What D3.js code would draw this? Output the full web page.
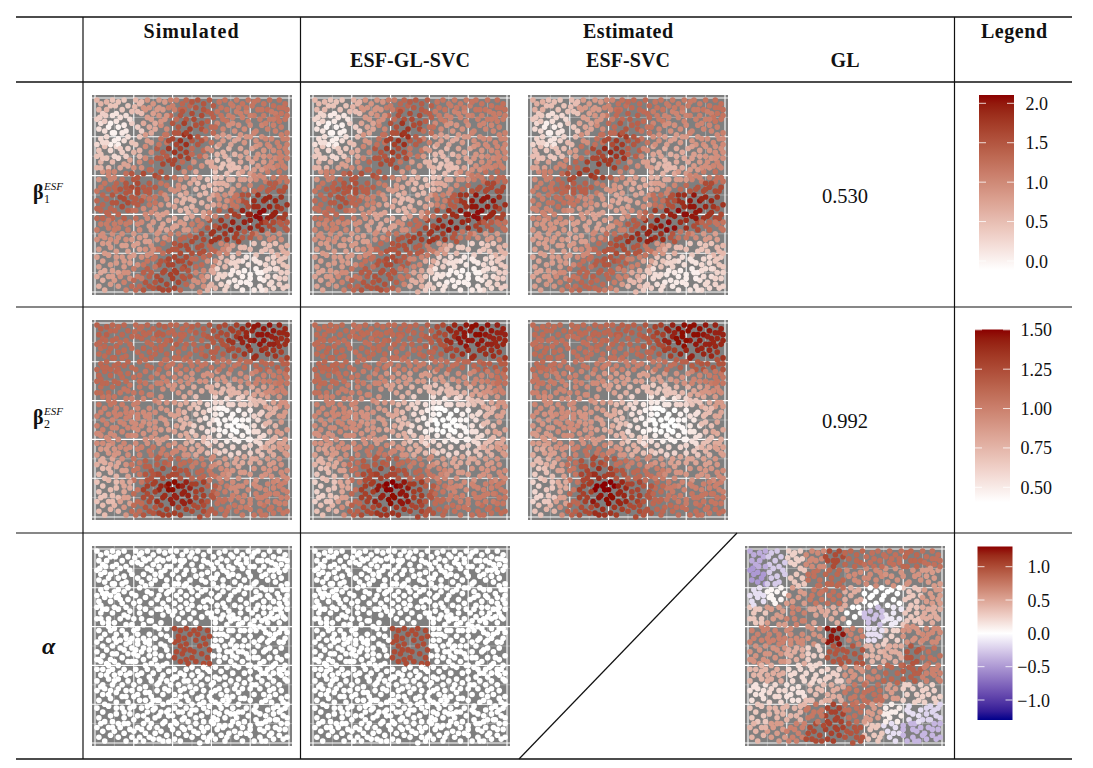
<!DOCTYPE html>
<html>
<head>
<meta charset="utf-8">
<script src="https://cdn.jsdelivr.net/npm/d3@7"></script>
<style>
body { margin: 0; background: #fff; }
text { font-family: "Liberation Serif", serif; fill: #111; }
</style>
</head>
<body>
<script>
// site positions in percent of the unit square, y counted from the top
var sites = [
[1,1],[3,3],[2,6],[4,8],[6,6],[8,4],[9,1],[6,2],[1,11],[3,13],[2,16],[5,17],[7,15],[9,18],[6,20],[3,21],[1,24],
[12,2],[15,1],[17,4],[14,6],[11,8],[13,10],[16,9],[19,7],[9,9],[11,12],[8,13],[12,15],[14,18],[12,21],[15,22],[17,20],[19,23],
[21,1],[24,2],[27,1],[25,5],[22,7],[28,5],[30,8],[27,10],[19,13],[22,15],[25,13],[28,15],[31,13],[29,18],[26,19],[23,20],[21,24],
[33,1],[36,2],[39,1],[38,5],[35,6],[33,9],[36,11],[39,9],[41,6],[42,1],[45,3],[47,1],[49,4],[46,6],[44,9],[47,11],[50,8],[52,5],
[53,1],[56,3],[59,1],[61,4],[58,7],[55,9],[58,12],[61,10],[63,7],[64,2],[67,1],[70,3],[68,6],[65,9],[68,12],[71,10],[73,7],[71,4],
[73,1],[76,3],[79,1],[81,4],[78,7],[76,10],[79,12],[82,9],[84,6],[84,1],[87,3],[90,1],[92,4],[89,6],[87,9],[90,11],[93,8],[95,5],
[95,1],[98,3],[99,6],[96,8],[98,11],[95,12],[92,14],[34,14],[37,16],[40,13],[43,15],[46,13],[49,16],[46,19],[43,18],[40,21],[37,23],[34,21],
[52,14],[55,16],[53,20],[50,22],[47,24],[44,26],[47,28],[50,26],[60,15],[63,13],[66,16],[69,14],[72,17],[69,20],[66,22],[63,20],[60,23],[57,21],
[74,14],[77,16],[80,14],[83,17],[86,14],[89,16],[86,20],[83,22],[80,20],[77,23],[74,21],[93,17],[96,15],[99,18],[97,21],[94,23],[91,21],[89,24],[92,27],[95,28],[98,26],
[2,27],[5,25],[8,27],[11,25],[14,28],[17,26],[20,28],[18,32],[15,34],[12,31],[9,33],[6,31],[3,33],[1,30],
[23,27],[26,25],[29,23],[32,26],[35,28],[38,26],[41,28],[38,32],[35,34],[32,31],[29,33],[26,31],[23,33],[20,36],
[53,24],[56,27],[54,30],[51,33],[48,31],[45,33],[43,36],[46,38],[49,36],[52,38],[55,35],[58,33],[60,27],[63,25],[66,28],[69,26],[72,29],[69,32],[66,34],[63,32],[60,35],
[75,26],[78,28],[81,26],[84,29],[87,27],[90,30],[87,33],[84,35],[81,33],[78,36],[75,33],[72,36],[93,31],[96,33],[99,31],[98,36],[95,38],[92,36],[89,38],[92,41],[95,43],[98,41],
[1,36],[4,38],[7,36],[10,38],[13,36],[16,39],[14,42],[11,44],[8,42],[5,44],[2,42],[19,39],[22,41],[25,39],[28,37],[31,40],[34,38],[37,41],[34,44],[31,46],[28,44],[25,46],[22,44],[19,46],[16,44],
[41,41],[44,42],[47,41],[49,44],[46,46],[43,45],[41,48],[44,50],[47,49],[49,52],[42,53],[45,54],[41,56],[44,58],[47,57],[48,59],[43,47],[46,52],
[51,42],[54,41],[58,42],[59,45],[56,46],[52,47],[54,50],[57,49],[59,52],[51,53],[55,54],[58,56],[52,58],[56,59],[59,59],[53,44],[50,56],
[62,38],[65,41],[68,39],[71,42],[74,39],[77,42],[80,39],[83,42],[80,45],[77,47],[74,45],[71,47],[68,45],[65,47],[62,44],
[85,40],[88,43],[86,46],[89,48],[92,46],[95,48],[98,46],[96,51],[93,53],[90,51],[87,53],[84,50],[82,48],
[1,48],[4,50],[1,53],[7,47],[9,50],[11,48],[13,51],[16,49],[19,51],[17,54],[14,56],[11,54],[8,57],[6,59],[4,55],
[22,49],[25,51],[28,49],[31,51],[34,49],[37,52],[34,55],[31,57],[28,55],[25,57],[22,55],[19,58],
[39,47],[38,55],[37,59],[35,60],[33,62],[30,64],[27,62],[24,64],[21,62],[18,64],[15,62],[12,60],[9,62],
[61,50],[64,52],[67,50],[70,53],[73,50],[76,53],[79,50],[82,53],[79,56],[76,58],[73,56],[70,58],[67,56],[64,58],[61,55],
[84,56],[87,58],[90,56],[93,59],[96,57],[99,55],[98,60],[95,62],[92,64],[89,62],[86,64],[83,61],[80,63],
[1,62],[3,65],[1,68],[4,70],[7,67],[9,70],[12,67],[14,70],[17,68],[20,70],[23,68],[26,71],[29,68],[32,70],
[35,65],[38,63],[41,62],[44,64],[47,62],[50,61],[53,63],[56,61],[59,63],[62,61],[65,63],[68,61],[71,64],
[37,68],[40,67],[43,70],[46,68],[49,71],[52,68],[55,70],[58,67],[61,69],[64,67],[67,70],[70,68],[73,70],
[74,61],[77,64],[74,67],[77,69],[80,67],[83,70],[86,68],[89,70],[92,68],[95,70],[98,67],[99,64],
[1,73],[4,75],[2,78],[5,80],[8,77],[11,74],[14,76],[11,79],[14,82],[17,79],[20,76],[23,78],[20,81],
[26,74],[29,76],[32,73],[35,75],[32,78],[29,80],[26,78],[24,82],[27,84],[30,83],[33,86],
[38,73],[41,75],[44,73],[47,76],[50,74],[53,77],[50,80],[47,82],[44,80],[41,82],[38,79],
[56,73],[59,76],[62,73],[65,75],[68,73],[71,76],[74,74],[77,77],[74,80],[71,82],[68,80],[65,82],[62,79],[59,81],[56,79],
[80,72],[82,75],[80,78],[83,81],[86,79],[87,75],[85,72],[90,73],[93,75],[96,73],[99,76],[97,79],[94,81],[91,79],[89,83],[92,85],[95,84],[98,82],
[1,82],[4,84],[2,87],[5,89],[8,86],[11,85],[9,89],[12,90],[15,87],[18,85],[17,90],[20,88],
[35,80],[37,84],[40,86],[43,84],[46,87],[49,85],[52,83],[55,86],[58,84],[61,87],[64,85],[67,87],[70,85],[73,87],
[76,84],[79,86],[77,89],[80,91],[83,88],[86,90],[83,84],[88,86],
[1,92],[4,94],[2,97],[5,99],[8,96],[7,92],[10,94],[12,97],[15,95],[13,92],[18,93],[16,99],[19,97],
[22,92],[25,90],[28,92],[26,95],[23,97],[21,99],[25,99],[28,97],[31,95],[29,90],[32,92],[35,90],
[34,94],[37,96],[35,99],[38,99],[40,93],[42,90],[45,92],[43,95],[41,98],[44,99],[47,96],[49,92],
[50,97],[52,90],[55,92],[53,95],[56,97],[54,100],[58,99],[60,96],[58,92],[61,90],[63,93],
[62,98],[65,96],[67,99],[69,95],[66,92],[70,91],[72,94],[74,90],[73,97],[76,99],[78,95],[76,92],
[80,96],[82,99],[85,97],[87,94],[85,93],[89,92],[91,95],[88,99],[92,98],[95,96],[93,92],[96,90],[98,93],[99,97],
[5,12],[8,24],[15,14],[12,24],[3,29],[7,40],[20,42],[17,35],[24,36],[29,28],[34,31],[40,34],[44,22],[49,20],
[57,17],[61,18],[64,24],[70,24],[75,19],[82,18],[85,24],[90,25],[95,25],[99,24],[88,36],[82,37],[76,38],[70,37],[65,36],
[97,35],[99,43],[90,44],[85,47],[72,51],[68,53],[62,47],[58,62],[54,66],[50,65],[46,65],[42,66],[39,70],[36,72],[33,69],
[28,52],[24,53],[20,54],[17,58],[13,64],[10,65],[7,63],[5,72],[8,73],[12,72],[16,73],[19,73],[23,72],[28,74],[33,78],
[38,86],[41,89],[45,88],[48,89],[52,87],[56,89],[60,89],[63,88],[67,91],[71,89],[74,84],[78,82],[82,83],
[90,88],[94,88],[97,86],[99,87],[92,82],[27,88],[25,86],[31,87],[36,89],[34,84],[30,78],[40,78],[44,76],[48,78],[52,72],
[60,70],[64,72],[68,76],[72,72],[76,72],[66,78],[60,78],[55,76],[88,64],[92,60],[96,65],[84,66],[80,60],[78,54],[74,53],
[70,49],[66,44],[62,41],[60,33],[63,29],[67,30],[71,34],[75,30],[79,31],[83,31],[87,30],[91,33],[94,35],[99,28],[96,30],
[26,6],[23,3],[30,3],[32,6],[34,12],[31,16],[37,19],[41,18],[44,6],[40,4],[50,2],[56,6],[60,8],[65,5],[69,9],[74,5],[78,5],[82,2],[86,6],[91,7],[94,10],[99,9],
[6,23],[10,22],[13,26],[4,31],[7,38],[10,41],[13,47],[18,48],[21,52],[6,52],[3,58],[1,57],[4,62],[7,60],[10,58],
[2.5,10],[5.5,9],[10.5,4],[18,11],[20.5,4.5],[24,8],[29,11],[33,5],[37,9],[42,11],[45,7],[51,11],[55,13],[62,15],[66,11],[71,13],[75,8],[80,9],[85,11],[88,13],[92,11],[97,5],
[4,23],[10,18],[16,17],[24,17],[27,22],[33,24],[36,19],[42,24],[38,22],[47,18],[55,22],[58,26],[66,19],[72,22],[78,20],[83,25],[88,21],[96,19],[99,21],
[3,36],[10,30],[16,30],[23,30],[29,37],[37,30],[41,32],[44,30],[50,29],[57,30],[62,36],[69,35],[74,36],[82,40],[90,35],[95,31],[96,41],[86,37],
[3,46],[10,46],[16,46],[22,47],[28,47],[33,41],[37,45],[36,50],[31,54],[26,48],[64,44],[69,42],[75,42],[80,42],[87,41],[93,44],[97,48],[90,47],
[2,57],[9,54],[15,52],[21,58],[26,60],[32,60],[29,59],[64,55],[71,55],[76,50],[82,56],[88,52],[94,56],[85,59],[91,61],[97,62],[63,50],
[6,65],[10,68],[16,65],[22,65],[28,66],[34,67],[41,66],[48,68],[55,65],[62,66],[67,66],[72,60],[79,60],[85,62],[90,66],[95,64],[99,68],[81,70],
[3,71],[7,75],[16,76],[22,75],[27,81],[42,78],[46,72],[54,80],[60,74],[64,80],[69,78],[75,77],[88,78],[92,72],[96,77],[90,76],[99,80],
[7,81],[11,82],[15,84],[18,82],[22,86],[31,82],[38,83],[45,84],[50,83],[56,82],[62,84],[68,84],[72,85],[85,85],[88,89],[93,88],[96,83],[99,90],
[3,90],[9,92],[15,90],[20,94],[24,93],[30,98],[33,98],[39,91],[46,93],[51,94],[56,94],[59,97],[64,91],[68,97],[75,95],[80,93],[84,90],[90,96],[95,93],[97,98],[86,99]
];

// values read per cell, rows from the top of the panel
var beta1Simulated = [
[.6,.45,.4,.55,.9,.85,1.1,1.35,1.5,1.45,1.2,1.15,1.2,1.2,1.25,1.25],
[.35,.15,.2,.5,.8,.9,1.3,1.5,1.6,1.4,1.2,1.1,1.1,1.15,1.15,1.2],
[.2,.02,.1,.35,.7,1,1.5,1.7,1.55,1.3,1.05,.95,1,1.05,1.1,1.15],
[.25,.05,.2,.45,.85,1.2,1.65,1.85,1.5,1.2,.85,.75,.9,.95,1.05,1.1],
[.45,.25,.35,.6,1,1.45,1.8,1.7,1.3,.95,.6,.6,.75,.9,1,1.1],
[.6,.55,.75,.95,1.3,1.65,1.65,1.3,.95,.7,.45,.5,.7,.85,1,1.1],
[.9,1.05,1.25,1.5,1.6,1.5,1.2,.95,.7,.45,.5,.6,.8,1,1.15,1.2],
[1.2,1.35,1.5,1.6,1.45,1.2,.95,.75,.55,.55,.65,.85,1.05,1.3,1.45,1.55],
[1.35,1.5,1.6,1.45,1.2,.95,.75,.6,.6,.7,.95,1.2,1.55,1.85,1.9,1.8],
[1.35,1.35,1.4,1.25,1,.8,.7,.6,.75,1.05,1.4,1.7,1.95,2.05,1.95,1.7],
[1.15,1.15,1.15,1,.85,.75,.75,.85,1.15,1.5,1.8,1.95,1.95,1.85,1.6,1.45],
[.95,.95,.95,.85,.8,.9,1.1,1.35,1.6,1.8,1.8,1.7,1.45,1.15,1,.95],
[.85,.85,.8,.8,.95,1.25,1.5,1.6,1.55,1.35,1.05,.8,.55,.45,.5,.65],
[.8,.85,.85,.95,1.2,1.5,1.65,1.6,1.3,.95,.55,.3,.15,.15,.3,.45],
[.7,.8,.95,1.15,1.4,1.6,1.7,1.5,1.05,.7,.3,.1,.02,.02,.2,.35],
[.65,.85,1.1,1.3,1.5,1.65,1.65,1.35,.95,.6,.3,.1,.05,.1,.25,.35]
];
var beta1EsfGlSvc = [
[.55,.45,.45,.6,.9,.9,1.15,1.35,1.45,1.4,1.2,1.15,1.15,1.2,1.2,1.25],
[.3,.1,.15,.5,.85,.95,1.3,1.55,1.6,1.4,1.15,1.05,1.05,1.1,1.15,1.15],
[.15,0,.05,.35,.75,1.05,1.55,1.8,1.6,1.25,1,.9,.95,1.05,1.05,1.1],
[.2,.05,.2,.5,.9,1.25,1.7,1.85,1.45,1.1,.8,.7,.85,.95,1,1.05],
[.4,.25,.4,.7,1.05,1.5,1.75,1.6,1.2,.85,.55,.55,.75,.9,1,1.05],
[.6,.6,.8,1,1.35,1.6,1.6,1.2,.85,.6,.45,.5,.75,.95,1.05,1.1],
[.9,1.1,1.35,1.5,1.55,1.45,1.1,.85,.65,.45,.5,.7,.95,1.15,1.25,1.3],
[1.2,1.4,1.5,1.55,1.4,1.15,.85,.7,.55,.55,.7,1,1.3,1.55,1.65,1.65],
[1.3,1.45,1.55,1.35,1.1,.9,.7,.55,.6,.8,1.1,1.45,1.8,2,2,1.85],
[1.25,1.3,1.3,1.15,.95,.75,.65,.6,.8,1.2,1.6,1.85,2,2.05,1.9,1.65],
[1.05,1.1,1.05,.95,.8,.7,.75,.95,1.3,1.65,1.9,2,1.9,1.7,1.45,1.25],
[.95,.95,.9,.8,.8,.95,1.2,1.5,1.7,1.8,1.75,1.5,1.2,.95,.85,.85],
[.85,.85,.8,.85,1,1.3,1.5,1.55,1.45,1.15,.85,.55,.4,.35,.45,.6],
[.8,.85,.85,1,1.25,1.5,1.6,1.45,1.05,.7,.35,.2,.1,.1,.25,.4],
[.75,.85,1,1.2,1.45,1.55,1.5,1.2,.75,.4,.15,.05,0,.02,.2,.35],
[.75,.9,1.1,1.35,1.5,1.55,1.4,1.05,.65,.35,.15,.05,.05,.1,.25,.35]
];
var beta1EsfSvc = [
[.65,.5,.45,.5,.85,.85,1.05,1.25,1.3,1.3,1.2,1.15,1.15,1.15,1.2,1.25],
[.4,.2,.25,.45,.8,.9,1.15,1.3,1.4,1.3,1.15,1.05,1.05,1.1,1.1,1.2],
[.25,.05,.15,.4,.75,1,1.3,1.5,1.4,1.2,1.05,.95,1,1.05,1.05,1.1],
[.3,.15,.3,.55,.95,1.25,1.6,1.75,1.5,1.2,.95,.8,.85,.9,.95,1],
[.5,.4,.5,.85,1.25,1.65,1.9,1.8,1.4,1,.75,.65,.7,.8,.9,.95],
[.75,.8,1.05,1.35,1.7,1.85,1.75,1.4,1,.8,.6,.55,.7,.85,.95,1.05],
[1,1.1,1.3,1.6,1.8,1.7,1.4,1.05,.8,.65,.6,.7,.85,1.05,1.15,1.25],
[1.1,1.2,1.35,1.45,1.4,1.15,.9,.8,.7,.7,.8,1.05,1.3,1.5,1.6,1.6],
[1.1,1.2,1.25,1.2,1,.85,.75,.7,.75,.95,1.25,1.55,1.85,2,1.9,1.8],
[1.05,1.05,1.05,.95,.85,.75,.75,.8,1,1.35,1.75,1.95,2.05,2,1.8,1.6],
[.9,.9,.9,.8,.75,.75,.85,1.1,1.45,1.8,2,2.05,1.85,1.6,1.35,1.2],
[.8,.85,.85,.75,.8,1,1.25,1.55,1.85,1.95,1.85,1.5,1.2,1,.85,.8],
[.8,.8,.8,.85,1,1.3,1.5,1.6,1.5,1.2,.9,.65,.5,.4,.45,.55],
[.75,.8,.85,1,1.25,1.45,1.5,1.4,1.1,.75,.45,.3,.2,.15,.25,.4],
[.75,.85,1,1.2,1.35,1.4,1.35,1.1,.7,.4,.2,.1,.05,.05,.2,.3],
[.8,.9,1.1,1.25,1.35,1.3,1.15,.85,.55,.35,.2,.1,.1,.15,.25,.3]
];
var beta2Simulated = [
[1.15,1.12,1.12,1.1,1.12,1.15,1.12,1.12,1.15,1.2,1.25,1.3,1.4,1.45,1.45,1.4],
[1.12,1.12,1.1,1.12,1.1,1.12,1.15,1.12,1.12,1.18,1.22,1.35,1.42,1.45,1.42,1.38],
[1.1,1.12,1.1,1.1,1.12,1.12,1.1,1.1,1.12,1.15,1.15,1.25,1.35,1.38,1.35,1.3],
[1.12,1.12,1.12,1.1,1.1,1.08,1.05,1.05,1.05,1.05,1.05,1.05,1.1,1.12,1.12,1.15],
[1.12,1.12,1.1,1.08,1.05,1,.98,.95,.92,.92,.9,.92,.95,1,1.02,1.05],
[1.1,1.1,1.05,1.05,1,.95,.9,.85,.8,.78,.72,.75,.8,.85,.95,1],
[1.05,1.05,1.02,1,.98,.92,.88,.8,.7,.6,.58,.6,.65,.72,.85,.92],
[1,1,1,.98,.95,.9,.85,.75,.65,.52,.45,.45,.5,.62,.78,.88],
[1,.98,.98,.95,.92,.88,.85,.75,.62,.55,.45,.42,.45,.58,.75,.88],
[.95,.95,.98,.95,.92,.88,.88,.8,.72,.6,.5,.48,.48,.58,.75,.85],
[.88,.9,.95,1,1.05,1.02,.98,.92,.82,.72,.62,.6,.62,.7,.8,.88],
[.78,.82,.92,1.05,1.15,1.15,1.12,1.1,1.02,.95,.88,.82,.8,.82,.88,.92],
[.72,.75,.85,1.05,1.2,1.25,1.25,1.2,1.12,1.05,.95,.9,.88,.9,.92,.95],
[.68,.72,.82,1.05,1.3,1.4,1.48,1.42,1.3,1.15,1.02,.95,.95,.95,.98,1],
[.68,.72,.85,1.1,1.25,1.38,1.42,1.42,1.3,1.2,1.08,1,.98,1,1,1],
[.72,.75,.9,1.1,1.2,1.3,1.3,1.3,1.25,1.15,1.08,1.05,1.02,1.05,1.05,1.05]
];
var beta2EsfGlSvc = [
[1.1,1.1,1.1,1.08,1.1,1.1,1.1,1.12,1.12,1.15,1.25,1.4,1.45,1.48,1.45,1.42],
[1.1,1.1,1.08,1.1,1.08,1.1,1.12,1.1,1.12,1.15,1.22,1.38,1.45,1.45,1.42,1.4],
[1.1,1.12,1.1,1.08,1.1,1.1,1.08,1.08,1.1,1.12,1.15,1.28,1.38,1.38,1.38,1.35],
[1.12,1.12,1.1,1.08,1.08,1.05,1.02,1.02,1.02,1.02,1.05,1.08,1.12,1.12,1.15,1.18],
[1.1,1.1,1.08,1.05,1.02,.98,.92,.9,.88,.88,.88,.9,.95,.98,1.02,1.08],
[1.08,1.05,1.02,1,.98,.92,.85,.8,.75,.72,.68,.72,.78,.85,.92,1],
[1,1,1,.98,.95,.9,.85,.75,.62,.55,.52,.55,.62,.7,.82,.9],
[.98,.98,.98,.95,.92,.88,.82,.72,.58,.48,.42,.42,.48,.58,.75,.85],
[.95,.95,.98,.95,.9,.88,.82,.72,.58,.48,.42,.42,.45,.55,.72,.85],
[.92,.92,.95,.95,.92,.88,.85,.78,.68,.58,.5,.48,.48,.58,.72,.82],
[.85,.88,.95,1,1.05,1.05,.98,.92,.8,.72,.62,.6,.62,.68,.78,.88],
[.75,.8,.92,1.08,1.18,1.18,1.15,1.1,1.02,.95,.88,.82,.8,.82,.88,.92],
[.68,.72,.85,1.08,1.25,1.3,1.28,1.22,1.12,1.05,.98,.92,.88,.9,.92,.95],
[.62,.68,.82,1.08,1.32,1.45,1.5,1.45,1.32,1.18,1.05,.98,.95,.98,1,1.02],
[.62,.68,.85,1.12,1.3,1.42,1.48,1.45,1.32,1.2,1.1,1.02,1,1.02,1.02,1.05],
[.7,.75,.95,1.15,1.25,1.35,1.35,1.35,1.28,1.2,1.12,1.08,1.05,1.08,1.08,1.1]
];
var beta2EsfSvc = [
[1.1,1.1,1.1,1.1,1.1,1.12,1.12,1.15,1.15,1.2,1.3,1.42,1.48,1.48,1.45,1.42],
[1.08,1.08,1.08,1.08,1.08,1.1,1.12,1.12,1.12,1.18,1.25,1.42,1.48,1.45,1.42,1.4],
[1.1,1.1,1.08,1.08,1.08,1.08,1.08,1.08,1.1,1.12,1.18,1.3,1.4,1.42,1.4,1.35],
[1.1,1.08,1.05,1.05,1.05,1.02,1,1,1,1,1.02,1.08,1.15,1.18,1.2,1.22],
[1.05,1.02,1,1,.98,.95,.9,.88,.85,.85,.85,.88,.92,.98,1.02,1.05],
[1,1,.98,.98,.95,.9,.85,.78,.72,.7,.65,.68,.75,.82,.9,.95],
[.98,.95,.95,.95,.92,.88,.82,.72,.6,.52,.5,.52,.6,.68,.8,.88],
[.95,.92,.95,.95,.9,.88,.8,.7,.55,.46,.42,.42,.46,.55,.72,.82],
[.9,.9,.95,.95,.9,.85,.8,.7,.55,.46,.42,.41,.44,.52,.7,.82],
[.88,.88,.95,.95,.92,.88,.85,.75,.65,.55,.48,.46,.46,.55,.7,.8],
[.8,.85,.92,1,1.08,1.05,.98,.9,.78,.7,.62,.6,.6,.66,.75,.85],
[.72,.78,.9,1.08,1.22,1.25,1.18,1.08,1,.95,.9,.85,.82,.82,.85,.9],
[.65,.7,.85,1.05,1.28,1.38,1.3,1.2,1.12,1.08,1.02,.95,.9,.9,.9,.95],
[.6,.66,.8,1.05,1.32,1.5,1.5,1.4,1.28,1.2,1.1,1.02,.98,1,1,1],
[.6,.66,.85,1.12,1.3,1.45,1.48,1.4,1.3,1.2,1.12,1.05,1.02,1.05,1.05,1.05],
[.68,.75,.95,1.15,1.25,1.38,1.35,1.32,1.25,1.2,1.12,1.1,1.08,1.08,1.05,1.08]
];
var alphaSimulated = [
[0,0,0,0,0,0,0,0,0,0],[0,0,0,0,0,0,0,0,0,0],[0,0,0,0,0,0,0,0,0,0],[0,0,0,0,0,0,0,0,0,0],
[0,0,0,0,1,1,0,0,0,0],[0,0,0,0,1,1,0,0,0,0],
[0,0,0,0,0,0,0,0,0,0],[0,0,0,0,0,0,0,0,0,0],[0,0,0,0,0,0,0,0,0,0],[0,0,0,0,0,0,0,0,0,0]
];
var alphaEsfGlSvc = alphaSimulated;
var alphaGl = [
[-.4,-.25,.25,.65,1,.85,.8,.8,.85,.8],
[-.5,-.25,.3,.8,.85,.65,.65,.6,.6,.55],
[-.15,.05,.55,.75,.8,.45,0,0,.3,.55],
[.3,.55,.7,.5,.45,0,-.3,-.1,.3,.45],
[.7,.7,.65,.6,1.25,.7,-.15,.25,.6,.65],
[.6,.6,.45,.25,.95,.95,.4,.45,.95,.8],
[.4,.45,.2,.2,.25,.6,.7,.85,.9,.7],
[.15,.2,.15,.35,.45,.75,.8,.55,.25,.25],
[.3,.4,.4,.75,1.05,.8,.55,.1,-.15,-.2],
[.4,.55,.7,1,1.05,.95,.3,-.15,-.35,-.35]
];

var headers = ["Simulated","Estimated","ESF-GL-SVC","ESF-SVC","GL","Legend"];
var headerX = [191,628,410,628,845,1014];
var headerY = [38,38,67,67,67,38];
var headerW = [95,90,120,84,29,66];
var glCells = ["0.530","0.992"];
var legend1Ticks = [0,.5,1,1.5,2];
var legend2Ticks = [.5,.75,1,1.25,1.5];
var legend3Ticks = [-1,-.5,0,.5,1];

var svg = d3.select("body").append("svg").attr("width",1093).attr("height",768);
var defs = svg.append("defs");
defs.append("filter").attr("id","soft").attr("x","-5%").attr("y","-5%").attr("width","110%").attr("height","110%")
	.append("feGaussianBlur").attr("stdDeviation",0.45);

var lowWhite = function(lo, hi) {
	return d3.scaleLinear().domain([lo,hi]).range(["#ffffff","#8b0000"]).interpolate(d3.interpolateLab);
};
var diverging = d3.scaleLinear().domain([-1.3,0,1.3]).range(["#00008b","#ffffff","#8b0000"]).interpolate(d3.interpolateLab);
var color1 = lowWhite(-0.1,2.105), color2 = lowWhite(0.41,1.5);

var colX = [92,310,528,745], rowY = [95,320,546], size = 200;

var panels = [
	{c:0,r:0,v:beta1Simulated,col:color1},{c:1,r:0,v:beta1EsfGlSvc,col:color1},{c:2,r:0,v:beta1EsfSvc,col:color1},
	{c:0,r:1,v:beta2Simulated,col:color2},{c:1,r:1,v:beta2EsfGlSvc,col:color2},{c:2,r:1,v:beta2EsfSvc,col:color2},
	{c:0,r:2,v:alphaSimulated,col:diverging},{c:1,r:2,v:alphaEsfGlSvc,col:diverging},{c:3,r:2,v:alphaGl,col:diverging}
];

function cell(grid, s) {
	var n = grid.length;
	return grid[Math.min(n-1,Math.floor(s[1]/100*n))][Math.min(n-1,Math.floor(s[0]/100*n))];
}

panels.forEach(function(p) {
	var x0 = colX[p.c], y0 = rowY[p.r];
	var x = d3.scaleLinear().domain([0,100]).range([x0+3,x0+size-3]);
	var y = d3.scaleLinear().domain([0,100]).range([y0+3,y0+size-3]);
	var g = svg.append("g").attr("filter","url(#soft)");
	g.append("rect").attr("x",x0).attr("y",y0).attr("width",size).attr("height",size).attr("fill","#7f7f7f");
	var ticks = d3.range(0,101,10);
	g.selectAll("line.v").data(ticks).join("line").attr("class","v")
		.attr("x1",x).attr("x2",x).attr("y1",y0).attr("y2",y0+size)
		.attr("stroke","#fff").attr("stroke-width",function(d){ return d%20==0 ? 1.1 : 0.5; })
		.attr("stroke-opacity",function(d){ return d%20==0 ? 1 : 0.6; });
	g.selectAll("line.h").data(ticks).join("line").attr("class","h")
		.attr("y1",y).attr("y2",y).attr("x1",x0).attr("x2",x0+size)
		.attr("stroke","#fff").attr("stroke-width",function(d){ return d%20==0 ? 1.1 : 0.5; })
		.attr("stroke-opacity",function(d){ return d%20==0 ? 1 : 0.6; });
	g.selectAll("circle").data(sites).join("circle")
		.attr("cx",function(d){ return x(d[0]); })
		.attr("cy",function(d){ return y(d[1]); })
		.attr("r",2.8)
		.attr("fill",function(d){ return p.col(cell(p.v,d)); });
});

// legends
function legend(id, color, domain, top, bottom, left, tickVals, scale, fmt, labelX) {
	var grad = defs.append("linearGradient").attr("id",id).attr("x1",0).attr("x2",0).attr("y1",1).attr("y2",0);
	d3.range(0,1.001,0.05).forEach(function(t) {
		grad.append("stop").attr("offset",t).attr("stop-color",color(domain[0]+t*(domain[1]-domain[0])));
	});
	svg.append("rect").attr("x",left).attr("y",top).attr("width",35).attr("height",bottom-top).attr("fill","url(#"+id+")");
	var g = svg.append("g");
	tickVals.forEach(function(v) {
		g.append("line").attr("x1",left).attr("x2",left+7).attr("y1",scale(v)).attr("y2",scale(v)).attr("stroke","#fff").attr("stroke-opacity",.8);
		g.append("line").attr("x1",left+28).attr("x2",left+35).attr("y1",scale(v)).attr("y2",scale(v)).attr("stroke","#fff").attr("stroke-opacity",.8);
		g.append("text").attr("x",labelX).attr("y",scale(v)+6.5).attr("text-anchor","end").attr("font-size",18)
			.text(fmt(v).replace("-","\u2212"));
	});
}
legend("leg1",color1,[-0.1,2.105],95,270,979,legend1Ticks,d3.scaleLinear().domain([0,2]).range([261,103.3]),d3.format(".1f"),1048);
legend("leg2",color2,[0.41,1.5],329.5,502,975,legend2Ticks,d3.scaleLinear().domain([.5,1.5]).range([487.3,329.8]),d3.format(".2f"),1052);
legend("leg3",diverging,[-1.3,1.3],546.5,720,977.5,legend3Ticks,d3.scaleLinear().domain([-1,1]).range([700,566.7]),d3.format(".1f"),1050);

// table rules
var hLines = [[17,1.6],[82,1.3],[307,1.1],[533,1.1],[759,1.6]];
hLines.forEach(function(l) {
	svg.append("line").attr("x1",16).attr("x2",1072).attr("y1",l[0]).attr("y2",l[0]).attr("stroke","#111").attr("stroke-width",l[1]);
});
[83,300.5,954.5].forEach(function(v) {
	svg.append("line").attr("x1",v).attr("x2",v).attr("y1",17).attr("y2",759).attr("stroke","#111").attr("stroke-width",1.2);
});
svg.append("line").attr("x1",519).attr("x2",737).attr("y1",759).attr("y2",533).attr("stroke","#111").attr("stroke-width",1.2);

headers.forEach(function(h,i) {
	svg.append("text").attr("x",headerX[i]).attr("y",headerY[i]).attr("text-anchor","middle")
		.attr("font-size",20).attr("font-weight","bold").attr("textLength",headerW[i]).attr("lengthAdjust","spacing").text(h);
});
svg.selectAll("text.gl").data(glCells).join("text").attr("class","gl")
	.attr("x",845).attr("y",function(d,i){ return [203,428][i]; }).attr("text-anchor","middle").attr("font-size",20.5).text(function(d){ return d; });

// row labels
[["1",199],["2",424]].forEach(function(r) {
	var t = svg.append("g");
	t.append("text").attr("x",33).attr("y",r[1]).attr("font-size",20).attr("font-weight","bold").text("\u03b2");
	t.append("text").attr("x",44).attr("y",r[1]+4).attr("font-size",12).text(r[0]);
	t.append("text").attr("x",44).attr("y",r[1]-9).attr("font-size",11).attr("font-style","italic").text("ESF");
});
svg.append("text").attr("x",42).attr("y",654).attr("font-size",24).attr("font-weight","bold").attr("font-style","italic").text("\u03b1");
</script>
</body>
</html>
